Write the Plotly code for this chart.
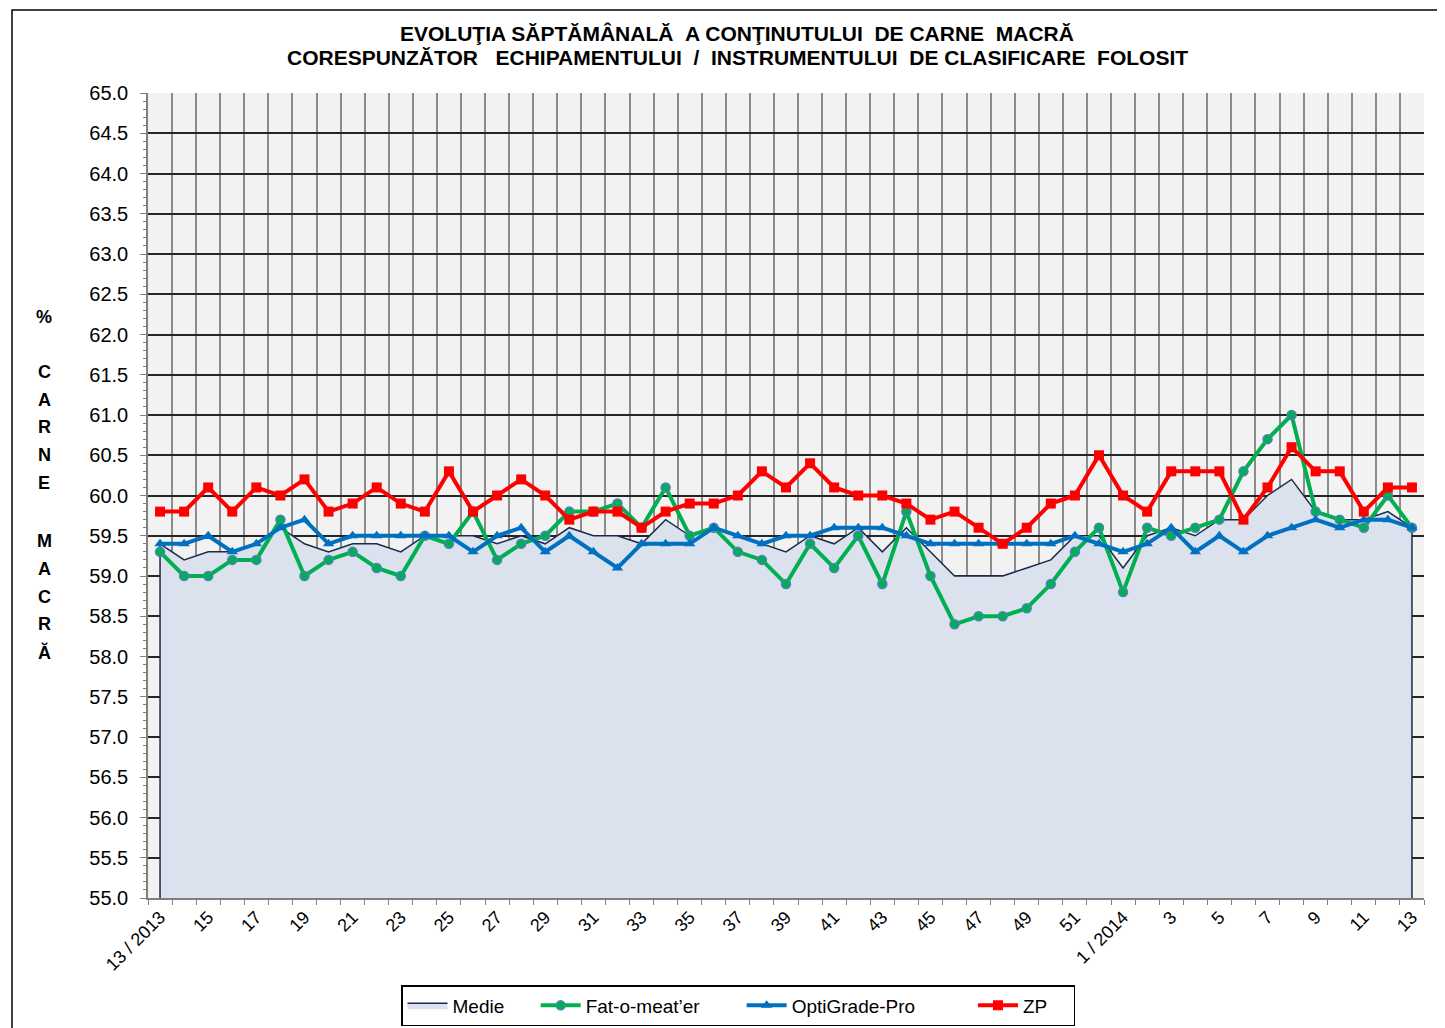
import plotly.graph_objects as go

# ---------------- data ----------------
weeks = ["13 / 2013", "14", "15", "16", "17", "18", "19", "20", "21", "22", "23", "24", "25",
         "26", "27", "28", "29", "30", "31", "32", "33", "34", "35", "36", "37", "38", "39",
         "40", "41", "42", "43", "44", "45", "46", "47", "48", "49", "50", "51", "52",
         "1 / 2014", "2", "3", "4", "5", "6", "7", "8", "9", "10", "11", "12", "13"]

medie = [59.4, 59.2, 59.3, 59.3, 59.4, 59.6, 59.4, 59.3, 59.4, 59.4, 59.3, 59.5, 59.5,
         59.5, 59.4, 59.5, 59.4, 59.6, 59.5, 59.5, 59.4, 59.7, 59.5, 59.6, 59.5, 59.4, 59.3,
         59.5, 59.4, 59.6, 59.3, 59.6, 59.3, 59.0, 59.0, 59.0, 59.1, 59.2, 59.5, 59.5,
         59.1, 59.5, 59.6, 59.5, 59.7, 59.7, 60.0, 60.2, 59.8, 59.7, 59.7, 59.8, 59.6]

fat_o_meater = [59.3, 59.0, 59.0, 59.2, 59.2, 59.7, 59.0, 59.2, 59.3, 59.1, 59.0, 59.5, 59.4,
                59.8, 59.2, 59.4, 59.5, 59.8, 59.8, 59.9, 59.6, 60.1, 59.5, 59.6, 59.3, 59.2, 58.9,
                59.4, 59.1, 59.5, 58.9, 59.8, 59.0, 58.4, 58.5, 58.5, 58.6, 58.9, 59.3, 59.6,
                58.8, 59.6, 59.5, 59.6, 59.7, 60.3, 60.7, 61.0, 59.8, 59.7, 59.6, 60.0, 59.6]

optigrade_pro = [59.4, 59.4, 59.5, 59.3, 59.4, 59.6, 59.7, 59.4, 59.5, 59.5, 59.5, 59.5, 59.5,
                 59.3, 59.5, 59.6, 59.3, 59.5, 59.3, 59.1, 59.4, 59.4, 59.4, 59.6, 59.5, 59.4, 59.5,
                 59.5, 59.6, 59.6, 59.6, 59.5, 59.4, 59.4, 59.4, 59.4, 59.4, 59.4, 59.5, 59.4,
                 59.3, 59.4, 59.6, 59.3, 59.5, 59.3, 59.5, 59.6, 59.7, 59.6, 59.7, 59.7, 59.6]

zp = [59.8, 59.8, 60.1, 59.8, 60.1, 60.0, 60.2, 59.8, 59.9, 60.1, 59.9, 59.8, 60.3,
      59.8, 60.0, 60.2, 60.0, 59.7, 59.8, 59.8, 59.6, 59.8, 59.9, 59.9, 60.0, 60.3, 60.1,
      60.4, 60.1, 60.0, 60.0, 59.9, 59.7, 59.8, 59.6, 59.4, 59.6, 59.9, 60.0, 60.5,
      60.0, 59.8, 60.3, 60.3, 60.3, 59.7, 60.1, 60.6, 60.3, 60.3, 59.8, 60.1, 60.1]

Y_MIN, Y_MAX = 55.0, 65.0

series_names = ["Medie", "Fat-o-meat\u2019er", "OptiGrade-Pro", "ZP"]
title_lines = ["EVOLUŢIA SĂPTĂMÂNALĂ \u00a0A CONŢINUTULUI \u00a0DE CARNE \u00a0MACRĂ",
               "CORESPUNZĂTOR \u00a0\u00a0ECHIPAMENTULUI \u00a0/ \u00a0INSTRUMENTULUI \u00a0DE CLASIFICARE \u00a0FOLOSIT"]
ylabel_letters = ["%", "C", "A", "R", "N", "E", "M", "A", "C", "R", "Ă"]

# ---------------- figure ----------------
FONT = "Liberation Sans, Arial, sans-serif"
OFF = 8                      # browser default body margin
W, H = 1445 - OFF, 1028 - OFF
L, R, T, B = 148 - OFF, 1424 - OFF, 93 - OFF, 898 - OFF
PW, PH = R - L, B - T


def px_x(x):
    """page pixel x -> paper x"""
    return (x - OFF - L) / PW


def px_y(y):
    """page pixel y -> paper y"""
    return (B - (y - OFF)) / PH


# legend spacing padding (invisible non-breaking spaces)
legend_pad = ["\u00a0" * 5, "\u00a0" * 7, "\u00a0" * 10, "\u00a0" * 4]

idx = list(range(len(weeks)))

fig = go.Figure()

# Medie area (closed polygon down to axis minimum)
fig.add_trace(go.Scatter(
    x=[idx[0]] + idx + [idx[-1]],
    y=[Y_MIN] + medie + [Y_MIN],
    mode="lines", fill="toself", fillcolor="#dbe2ee",
    line=dict(color="#1c2b4a", width=1.5),
    name=series_names[0] + legend_pad[0], hoverinfo="skip",
))

fig.add_trace(go.Scatter(
    x=idx, y=fat_o_meater, mode="lines+markers", name=series_names[1] + legend_pad[1],
    line=dict(color="#00b050", width=4),
    marker=dict(symbol="circle", size=9, color="#00b050",
                line=dict(color="#4f81bd", width=1.5)),
))

fig.add_trace(go.Scatter(
    x=idx, y=optigrade_pro, mode="lines+markers", name=series_names[2] + legend_pad[2],
    line=dict(color="#0070c0", width=4),
    marker=dict(symbol="triangle-up", size=10, color="#0070c0"),
))

fig.add_trace(go.Scatter(
    x=idx, y=zp, mode="lines+markers", name=series_names[3] + legend_pad[3],
    line=dict(color="#ff0000", width=4),
    marker=dict(symbol="square", size=10, color="#ff0000"),
))

annotations = []
for line_text, yy in zip(title_lines, [33, 57]):
    annotations.append(dict(text="<b>" + line_text + "</b>", x=px_x(737), y=px_y(yy),
                            xref="paper", yref="paper", showarrow=False, xanchor="center",
                            yanchor="middle", font=dict(family=FONT, size=21, color="black")))

letter_y = [317, 372, 400, 427, 455, 483, 541, 569, 597, 624, 652]
for ch, yy in zip(ylabel_letters, letter_y):
    annotations.append(dict(text="<b>" + ch + "</b>", x=px_x(44), y=px_y(yy),
                            xref="paper", yref="paper", showarrow=False,
                            xanchor="center", yanchor="middle",
                            font=dict(family=FONT, size=18, color="black")))

tickvals = idx[::2]
ticktext = weeks[::2]

fig.update_layout(
    width=W, height=H,
    margin=dict(l=L, r=W - R, t=T, b=H - B, autoexpand=False),
    paper_bgcolor="white", plot_bgcolor="#f2f2f2",
    font=dict(family=FONT, size=16, color="black"),
    showlegend=True,
    legend=dict(orientation="h", x=px_x(738), y=px_y(985), xanchor="center", yanchor="top",
                bordercolor="black", borderwidth=1.5, bgcolor="white",
                font=dict(family=FONT, size=19, color="black"),
                itemwidth=40, tracegroupgap=0, traceorder="normal"),
    annotations=annotations,
    shapes=[dict(type="rect", xref="paper", yref="paper",
                 x0=px_x(12), x1=px_x(1470), y0=px_y(1070), y1=px_y(10),
                 line=dict(color="black", width=1.5), fillcolor="rgba(0,0,0,0)", layer="above")],
    xaxis=dict(
        range=[-0.5, len(weeks) - 0.5], tickmode="array", tickvals=tickvals, ticktext=ticktext,
        tickangle=-45, ticks="", showgrid=False, zeroline=False, automargin=False,
        showline=True, linecolor="#7f7f7f", linewidth=1.5, mirror=False,
        tickfont=dict(family=FONT, size=18, color="black"),
        minor=dict(tickmode="linear", tick0=-0.5, dtick=1, showgrid=True,
                   gridcolor="#8c8c8c", gridwidth=1.8, ticks="outside", ticklen=5,
                   tickcolor="#7f7f7f"),
    ),
    yaxis=dict(
        range=[Y_MIN, Y_MAX], tickmode="linear", tick0=Y_MIN, dtick=0.5, tickformat=".1f",
        showgrid=True, gridcolor="#262626", gridwidth=1.8, zeroline=False, automargin=False,
        showline=True, linecolor="#7f7f7f", linewidth=1.5,
        ticks="outside", ticklen=6, tickcolor="#7f7f7f", ticklabelstandoff=8,
        tickfont=dict(family=FONT, size=20, color="black"),
        minor=dict(tickmode="linear", tick0=Y_MIN, dtick=0.1, ticks="outside", ticklen=3,
                   tickcolor="#7f7f7f", showgrid=False),
    ),
)

fig.write_html("out.html")
